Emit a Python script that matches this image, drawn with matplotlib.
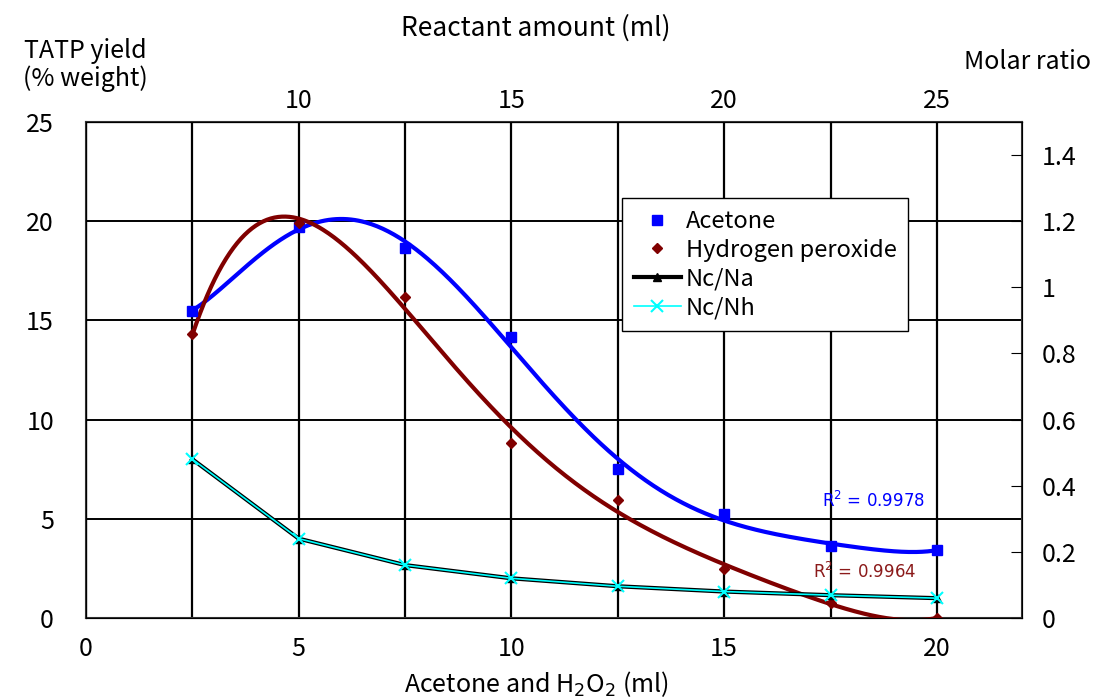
import numpy as np
import matplotlib
matplotlib.use("Agg")
import matplotlib.pyplot as plt

plt.rcParams["font.family"] = ["Noto Sans CJK JP", "DejaVu Sans"]

# volumes of acetone and H2O2 (ml)
volume = [2.5, 5, 7.5, 10, 12.5, 15, 17.5, 20]
acetone_yield = [15.49, 19.69, 18.67, 14.15, 7.51, 5.22, 3.65, 3.43]
h2o2_yield = [14.31, 19.9, 16.16, 8.8, 5.95, 2.45, 0.75, 0.0]
nc_na = [0.48, 0.24, 0.16, 0.12, 0.096, 0.08, 0.069, 0.06]
nc_nh = [0.48, 0.24, 0.16, 0.12, 0.096, 0.08, 0.069, 0.06]
r2_acetone = "0.9978"
r2_h2o2 = "0.9964"

BLUE = "#0000ff"
RED = "#800000"

fig = plt.figure(figsize=(10.96, 6.97), dpi=100)
ax = fig.add_axes([86 / 1096, 1 - 618 / 697, (1022 - 86) / 1096, (618 - 122) / 697])

# polynomial trend lines (order 6 for acetone, 5 for H2O2)
xs = np.linspace(2.5, 20, 400)
for ys, col, deg in [(acetone_yield, BLUE, 6), (h2o2_yield, RED, 5)]:
    coef = np.polyfit(volume, ys, deg)
    ax.plot(xs, np.polyval(coef, xs), color=col, lw=3, zorder=3)

ax.plot(volume, acetone_yield, ls="none", marker="s", ms=7, color=BLUE, label="Acetone", zorder=4)
ax.plot(volume, h2o2_yield, ls="none", marker="D", ms=5, color=RED, label="Hydrogen peroxide", zorder=4)

ax.set_xlim(0, 22)
ax.set_ylim(0, 25)
ax.set_xticks([0, 5, 10, 15, 20])
ax.set_xticks(np.arange(2.5, 22, 2.5), minor=True)
ax.set_yticks([0, 5, 10, 15, 20, 25])
ax.grid(True, which="both", axis="x", color="black", lw=1.6)
ax.grid(True, which="major", axis="y", color="black", lw=1.4)
ax.tick_params(axis="y", which="both", length=0, labelsize=18, pad=23)
ax.tick_params(axis="x", which="both", length=0, labelsize=18, pad=13)
for s in ax.spines.values():
    s.set_color("#333333")
    s.set_linewidth(1.5)

ax.text(18.5, 5.9, "R$^2$ = " + r2_acetone, color=BLUE, fontsize=12, ha="center", va="center",
        family="DejaVu Sans")
ax.text(18.3, 2.3, "R$^2$ = " + r2_h2o2, color="#8b1a1a", fontsize=12, ha="center", va="center",
        family="DejaVu Sans")

# molar ratio on the right
ax2 = ax.twinx()
ax2.plot(volume, nc_na, color="black", lw=3, marker="^", ms=6, label="Nc/Na", zorder=3)
ax2.plot(volume, nc_nh, color="cyan", lw=1.2, marker="x", ms=8, mew=1.5, label="Nc/Nh", zorder=4)
ax2.set_ylim(0, 1.5)
ax2.set_yticks([0, 0.2, 0.4, 0.6, 0.8, 1, 1.2, 1.4])
ax2.set_yticklabels(["0", "0.2", "0.4", "0.6", "0.8", "1", "1.2", "1.4"])
ax2.tick_params(axis="y", direction="in", length=8, labelsize=18, pad=14)

# reactant amount on top
top = ax.secondary_xaxis("top", functions=(lambda x: x + 5, lambda x: x - 5))
top.set_xticks([10, 15, 20, 25])
top.tick_params(length=0, labelsize=18, pad=6)

fig.text(536 / 1096, 1 - 684 / 697, "Acetone and H$_2$O$_2$ (ml)", fontsize=18, ha="center",
         va="center")
fig.text(536 / 1096, 1 - 28 / 697, "Reactant amount (ml)", fontsize=19, ha="center", va="center")
fig.text(85 / 1096, 1 - 65 / 697, "TATP yield\n(% weight)", fontsize=18, ha="center", va="center",
         linespacing=1.1)
fig.text(1028 / 1096, 1 - 62 / 697, "Molar ratio", fontsize=18, ha="center", va="center")

h1, l1 = ax.get_legend_handles_labels()
h2, l2 = ax2.get_legend_handles_labels()
leg = fig.legend(h1 + h2, l1 + l2, loc="upper left", bbox_to_anchor=(622 / 1096, 1 - 198 / 697),
                 borderaxespad=0, fontsize=17, frameon=True, fancybox=False, edgecolor="black",
                 framealpha=1, handlelength=2.0, handletextpad=0.2, borderpad=0.5,
                 labelspacing=0.25)
leg.get_frame().set_linewidth(1)

fig.savefig("out.png", dpi=100)
